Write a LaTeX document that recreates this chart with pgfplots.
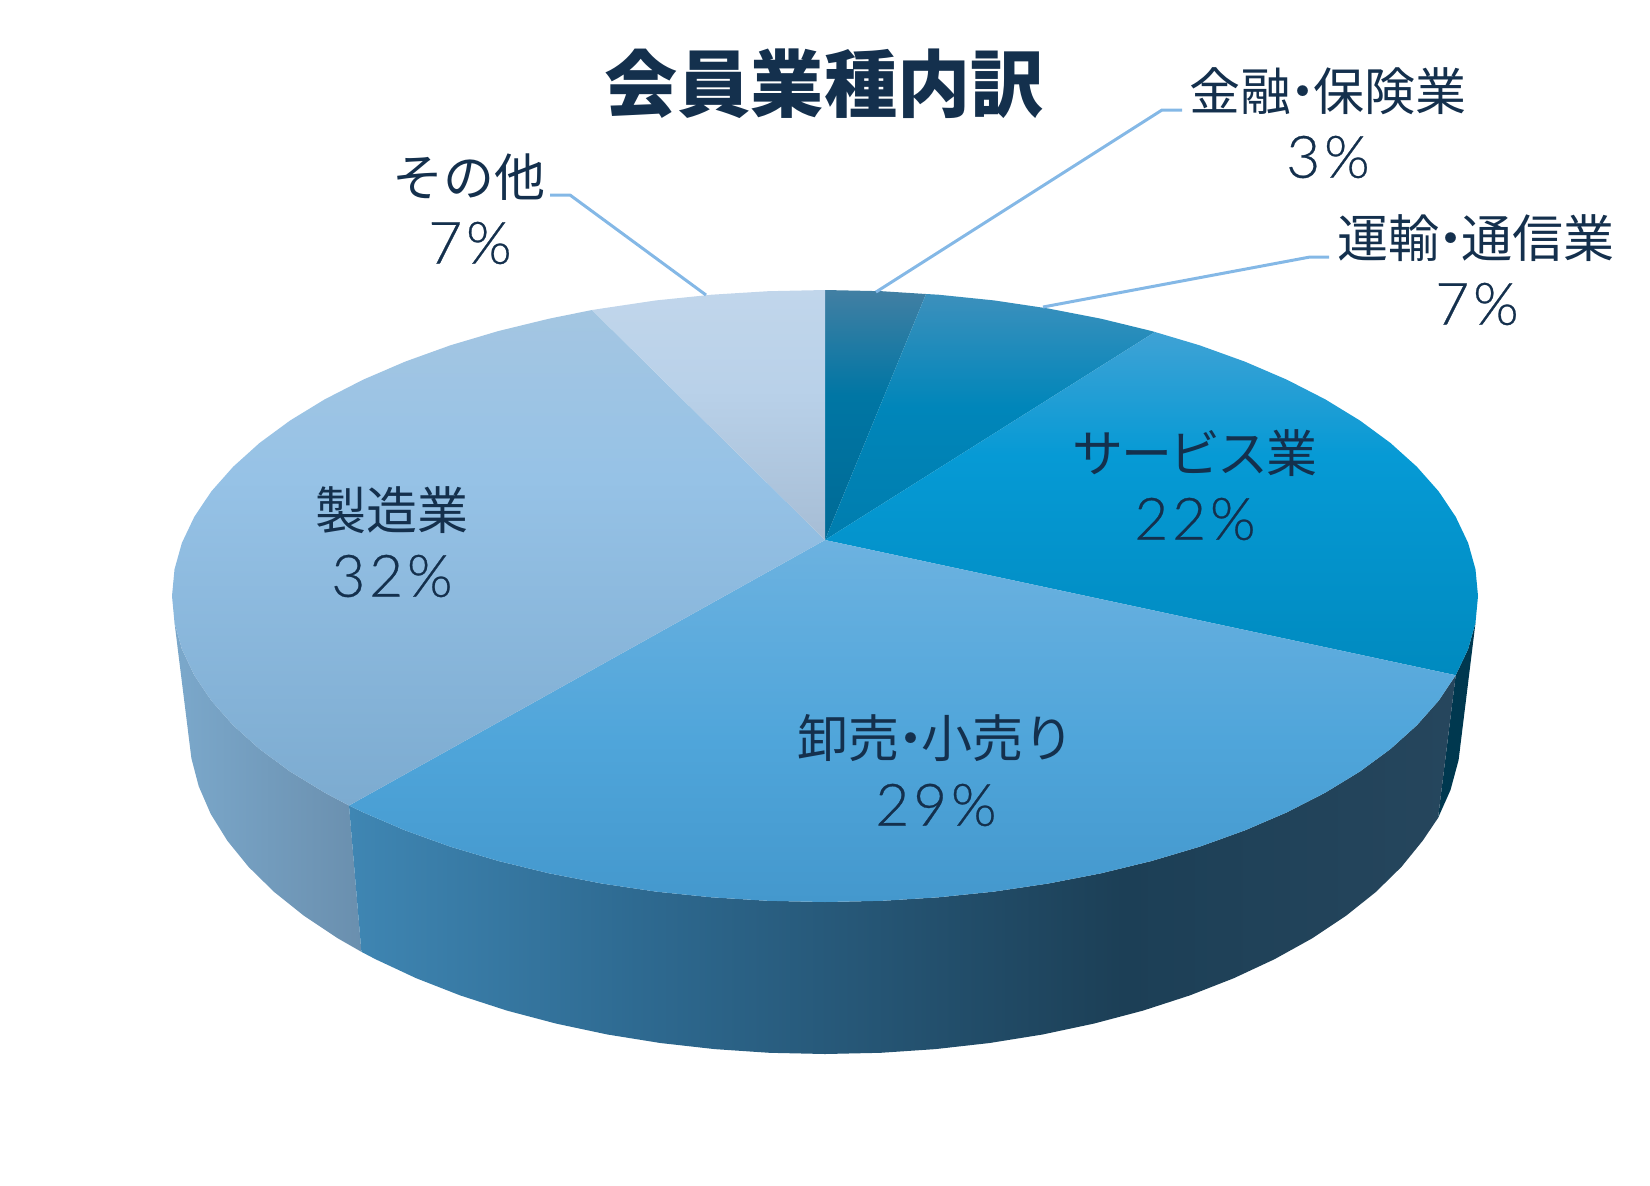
\documentclass[border=0pt]{standalone}
\usepackage{pgfplots}
\pgfplotsset{compat=1.18}
\usepackage{fontspec}
\setmainfont{Noto Sans CJK JP}
\newfontfamily\numf[LetterSpace=6.5,FakeBold=0.45]{Lato Light}
\definecolor{txt}{HTML}{14304D}
\definecolor{leader}{HTML}{84B8E6}
\definecolor{a1}{HTML}{006A95}\definecolor{a2}{HTML}{0076A4}\definecolor{a3}{HTML}{427FA3}
\definecolor{b1}{HTML}{007DAE}\definecolor{b2}{HTML}{0086BA}\definecolor{b3}{HTML}{3C90BC}
\definecolor{c1}{HTML}{008ABF}\definecolor{c2}{HTML}{069AD5}\definecolor{c3}{HTML}{3FA2D5}
\definecolor{d1}{HTML}{4498CD}\definecolor{d2}{HTML}{4FA5DA}\definecolor{d3}{HTML}{6CB2E0}
\definecolor{e1}{HTML}{7CABD0}\definecolor{e2}{HTML}{96C2E6}\definecolor{e3}{HTML}{A4C6E2}
\definecolor{f1}{HTML}{A6BDD5}\definecolor{f2}{HTML}{B9D1E9}\definecolor{f3}{HTML}{C1D6EB}
\definecolor{g1}{HTML}{3F86B3}\definecolor{g2}{HTML}{2E6A91}\definecolor{g3}{HTML}{1C3F56}\definecolor{g4}{HTML}{26465D}
\definecolor{h1}{HTML}{7BA8CB}\definecolor{h2}{HTML}{6A8FAE}
\definecolor{sliver}{HTML}{00384F}
\pgfdeclareverticalshading{sA}{100bp}{color(0bp)=(a1); color(25bp)=(a1); color(54bp)=(a2); color(75bp)=(a3); color(100bp)=(a3)}
\pgfdeclareverticalshading{sB}{100bp}{color(0bp)=(b1); color(25bp)=(b1); color(52bp)=(b2); color(75bp)=(b3); color(100bp)=(b3)}
\pgfdeclareverticalshading{sC}{100bp}{color(0bp)=(c1); color(25bp)=(c1); color(57bp)=(c2); color(75bp)=(c3); color(100bp)=(c3)}
\pgfdeclareverticalshading{sD}{100bp}{color(0bp)=(d1); color(25bp)=(d1); color(47bp)=(d2); color(75bp)=(d3); color(100bp)=(d3)}
\pgfdeclareverticalshading{sE}{100bp}{color(0bp)=(e1); color(25bp)=(e1); color(58bp)=(e2); color(75bp)=(e3); color(100bp)=(e3)}
\pgfdeclareverticalshading{sF}{100bp}{color(0bp)=(f1); color(25bp)=(f1); color(55bp)=(f2); color(75bp)=(f3); color(100bp)=(f3)}
\pgfdeclarehorizontalshading{sG}{100bp}{color(0bp)=(g1); color(25bp)=(g1); color(38bp)=(g2); color(60bp)=(g3); color(75bp)=(g4); color(100bp)=(g4)}
\pgfdeclarehorizontalshading{sH}{100bp}{color(0bp)=(h1); color(25bp)=(h1); color(75bp)=(h2); color(100bp)=(h2)}
\newcommand{\dotc}{\makebox[0.44em][c]{・}}
\begin{document}
\begin{tikzpicture}
\useasboundingbox (0,0) rectangle (825pt,592.5pt);
\begin{axis}[
  at={(0,0)}, anchor=south west,
  scale only axis, width=825pt, height=592.5pt,
  xmin=0, xmax=1650, ymin=0, ymax=1185, y dir=reverse,
  hide axis, clip=false,
  every axis plot/.append style={no markers, line join=round}]
% side faces
\addplot[shading=sH, shade, draw=none] coordinates {(174.5,622.7)(181.9,649.1)(194.3,675.2)(211.4,700.7)(233.2,725.3)(259.5,749)(290.1,771.5)(324.8,792.7)(349,805.5)(361.4,951.8)(337.8,938.3)(304,915.8)(274.2,892)(248.6,866.9)(227.4,840.8)(210.7,813.9)(198.7,786.2)(191.4,758.3)} -- cycle;
\addplot[fill=sliver, draw=none] coordinates {(1475.5,622.7)(1468.1,649.1)(1455.7,675.2)(1438,818)(1450.5,790)(1458.6,760)} -- cycle;
\addplot[shading=sG, shade, draw=none] coordinates {(1455.7,675.2)(1438.6,700.7)(1416.8,725.3)(1390.5,749)(1359.9,771.5)(1325.2,792.7)(1286.7,812.4)(1244.8,830.4)(1199.6,846.7)(1151.5,861)(1101,873.3)(1048.3,883.5)(994,891.6)(938.4,897.3)(881.9,900.8)(825,902)(768.1,900.8)(711.6,897.3)(656,891.6)(601.7,883.5)(549,873.3)(498.5,861)(450.4,846.7)(405.2,830.4)(363.3,812.4)(349,805.5)(361.4,951.8)(375.3,959.1)(416.2,978.2)(460.2,995.4)(507,1010.6)(556.2,1023.6)(607.5,1034.5)(660.4,1043)(714.6,1049.1)(769.5,1052.8)(825,1054)(880.5,1052.8)(935.4,1049.1)(989.6,1043)(1042.5,1034.5)(1093.8,1023.6)(1143,1010.6)(1189.8,995.4)(1233.8,978.2)(1274.7,959.1)(1312.2,938.3)(1346,915.8)(1375.8,892)(1401.4,866.9)(1422.6,840.8)(1438,818)} -- cycle;
% top faces
\addplot[shading=sA, shade, draw=none] coordinates {(825,540)(825,290)(881.9,291.2)(926,294)} -- cycle;
\addplot[shading=sB, shade, draw=none] coordinates {(825,540)(926,294)(938.4,294.7)(994,300.4)(1048.3,308.5)(1101,318.7)(1151.5,331)(1155,332)} -- cycle;
\addplot[shading=sC, shade, draw=none] coordinates {(825,540)(1155,332)(1199.6,345.3)(1244.8,361.6)(1286.7,379.6)(1325.2,399.3)(1359.9,420.5)(1390.5,443)(1416.8,466.7)(1438.6,491.3)(1455.7,516.8)(1468.1,542.9)(1475.5,569.3)(1478,596)(1475.5,622.7)(1468.1,649.1)(1455.7,675.2)} -- cycle;
\addplot[shading=sD, shade, draw=none] coordinates {(825,540)(1455.7,675.2)(1438.6,700.7)(1416.8,725.3)(1390.5,749)(1359.9,771.5)(1325.2,792.7)(1286.7,812.4)(1244.8,830.4)(1199.6,846.7)(1151.5,861)(1101,873.3)(1048.3,883.5)(994,891.6)(938.4,897.3)(881.9,900.8)(825,902)(768.1,900.8)(711.6,897.3)(656,891.6)(601.7,883.5)(549,873.3)(498.5,861)(450.4,846.7)(405.2,830.4)(363.3,812.4)(349,805.5)} -- cycle;
\addplot[shading=sE, shade, draw=none] coordinates {(825,540)(349,805.5)(324.8,792.7)(290.1,771.5)(259.5,749)(233.2,725.3)(211.4,700.7)(194.3,675.2)(181.9,649.1)(174.5,622.7)(172,596)(174.5,569.3)(181.9,542.9)(194.3,516.8)(211.4,491.3)(233.2,466.7)(259.5,443)(290.1,420.5)(324.8,399.3)(363.3,379.6)(405.2,361.6)(450.4,345.3)(498.5,331)(549,318.7)(592,310)} -- cycle;
\addplot[shading=sF, shade, draw=none] coordinates {(825,540)(592,310)(601.7,308.5)(656,300.4)(711.6,294.7)(768.1,291.2)(825,290)} -- cycle;
% leaders
\addplot[leader, line width=1.5pt] coordinates {(1182,110)(1162,110)(876,292)};
\addplot[leader, line width=1.5pt] coordinates {(1329,257)(1310,257)(1043,307)};
\addplot[leader, line width=1.5pt] coordinates {(550,195)(570,195)(706,295)};
% text
\node[text=txt, font=\bfseries\fontsize{36.6pt}{36.6pt}\selectfont] at (axis cs:824,84) {会員業種内訳};
\node[text=txt, font=\fontsize{25.5pt}{25.5pt}\selectfont, inner sep=0pt] at (axis cs:1328,91) {金融\dotc 保険業};
\node[text=txt, font=\numf\fontsize{29.3pt}{29.3pt}\selectfont, inner sep=0pt] at (axis cs:1328,157) {3\%};
\node[text=txt, font=\fontsize{25.5pt}{25.5pt}\selectfont, inner sep=0pt] at (axis cs:1476,238) {運輸\dotc 通信業};
\node[text=txt, font=\numf\fontsize{29.3pt}{29.3pt}\selectfont, inner sep=0pt] at (axis cs:1477,304) {7\%};
\node[text=txt, font=\fontsize{25.5pt}{25.5pt}\selectfont, inner sep=0pt] at (axis cs:469,177) {その他};
\node[text=txt, font=\numf\fontsize{29.3pt}{29.3pt}\selectfont, inner sep=0pt] at (axis cs:470,243) {7\%};
\node[text=txt, font=\fontsize{25.5pt}{25.5pt}\selectfont, inner sep=0pt] at (axis cs:1195,453) {サ\kern-1.3pt ー\kern-1.3pt ビ\kern-1.3pt ス\kern-1.3pt 業};
\node[text=txt, font=\numf\fontsize{29.3pt}{29.3pt}\selectfont, inner sep=0pt] at (axis cs:1195,519) {22\%};
\node[text=txt, font=\fontsize{25.5pt}{25.5pt}\selectfont, inner sep=0pt] at (axis cs:936,738) {卸売\dotc 小売り};
\node[text=txt, font=\numf\fontsize{29.3pt}{29.3pt}\selectfont, inner sep=0pt] at (axis cs:936,805) {29\%};
\node[text=txt, font=\fontsize{25.5pt}{25.5pt}\selectfont, inner sep=0pt] at (axis cs:392,510) {製造業};
\node[text=txt, font=\numf\fontsize{29.3pt}{29.3pt}\selectfont, inner sep=0pt] at (axis cs:392,576) {32\%};
\end{axis}
\end{tikzpicture}
\end{document}
